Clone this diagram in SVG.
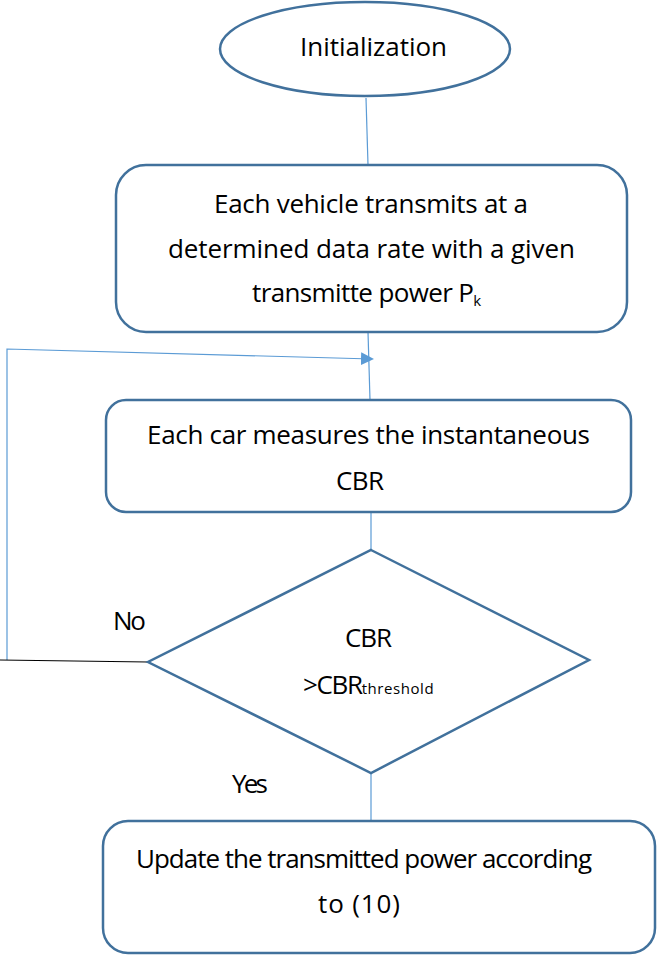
<svg xmlns="http://www.w3.org/2000/svg" width="659" height="955" viewBox="0 0 659 955">
<style>
.shape{fill:#fff;stroke:#41719C;stroke-width:2.5}
.conn{fill:none;stroke:#5B9BD5;stroke-width:1.2}
text{font-family:"Open Sans","Liberation Sans",sans-serif;font-size:26px;fill:#000}
.sub{font-size:15px}
</style>
<defs>
<marker id="arr" markerWidth="13" markerHeight="13" refX="11" refY="6.5" orient="auto" markerUnits="userSpaceOnUse" viewBox="0 0 13 13">
<path d="M0,0 L13,6.5 L0,13 Z" fill="#5B9BD5"/>
</marker>
</defs>
<g id="connectors">
<line class="conn" x1="366" y1="98" x2="368" y2="165"/>
<line class="conn" x1="368" y1="332" x2="370" y2="400"/>
<polyline class="conn" points="7,660 7,349 372,359" marker-end="url(#arr)"/>
<line class="conn" x1="371" y1="512" x2="371" y2="550"/>
<line x1="148" y1="662" x2="0" y2="660" stroke="#000" stroke-width="1.2"/>
<line class="conn" x1="371" y1="773" x2="371" y2="822"/>
</g>
<g id="init">
<ellipse class="shape" cx="365" cy="49" rx="145" ry="47"/>
<text x="300" y="56" textLength="147">Initialization</text>
</g>
<g id="transmit">
<rect class="shape" x="116" y="165" width="511" height="167" rx="30"/>
<text x="214" y="213" textLength="314">Each vehicle transmits at a</text>
<text x="168" y="258" textLength="407">determined data rate with a given</text>
<text x="252" y="302"><tspan textLength="222">transmitte power P</tspan><tspan class="sub" dy="4">k</tspan></text>
</g>
<g id="measure">
<rect class="shape" x="106" y="400" width="525" height="112" rx="20"/>
<text x="147" y="444" textLength="443">Each car measures the instantaneous</text>
<text x="336" y="490" textLength="48">CBR</text>
</g>
<g id="decision">
<polygon class="shape" points="371,550 589,660 371,773 148,662"/>
<text x="345" y="647" textLength="47">CBR</text>
<text x="303" y="694"><tspan textLength="60">&gt;CBR</tspan><tspan class="sub" textLength="72">threshold</tspan></text>
</g>
<g id="update">
<rect class="shape" x="103" y="821" width="552" height="132" rx="25"/>
<text x="136" y="868" textLength="456">Update the transmitted power according</text>
<text x="318" y="913" textLength="82">to (10)</text>
</g>
<text x="113" y="630" textLength="33">No</text>
<text x="232" y="793" textLength="36">Yes</text>
</svg>
